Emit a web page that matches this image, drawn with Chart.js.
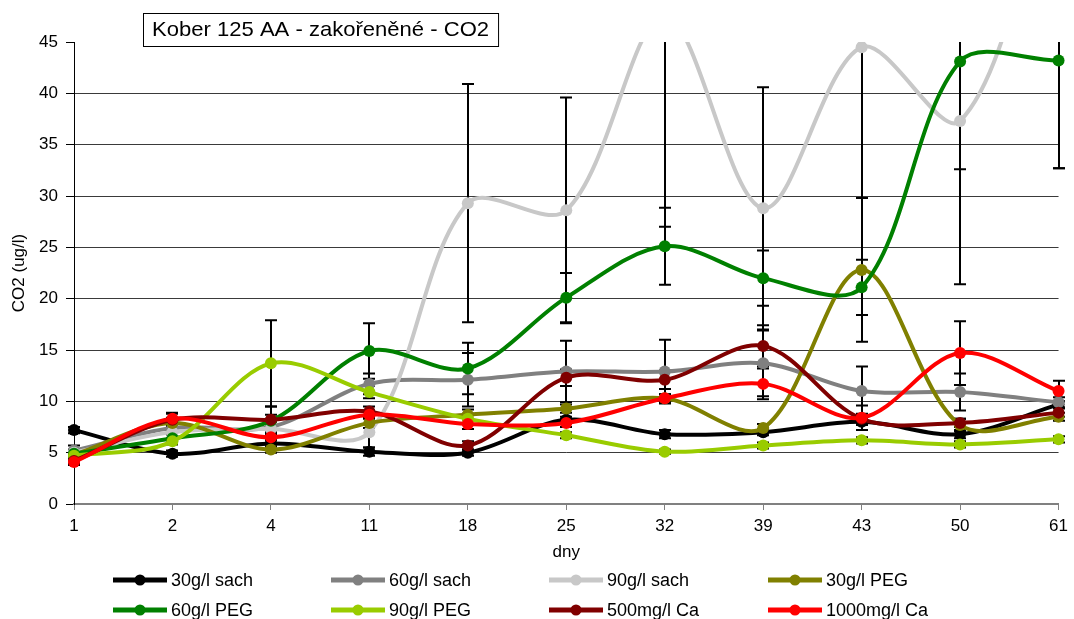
<!DOCTYPE html>
<html>
<head>
<meta charset="utf-8">
<script src="https://cdn.jsdelivr.net/npm/chart.js@4"></script>
<style>
  html, body { margin: 0; padding: 0; background: #fff; }
  #chart { display: block; }
</style>
</head>
<body>
<canvas id="chart" width="1074" height="619"></canvas>
<script>
const FONT = 'Arial, "Liberation Sans", sans-serif';

// dny (x axis categories)
const days = ["1", "2", "4", "11", "18", "25", "32", "39", "43", "50", "61"];

// series names
const names = ["30g/l sach", "60g/l sach", "90g/l sach", "30g/l PEG",
    "60g/l PEG", "90g/l PEG", "500mg/l Ca", "1000mg/l Ca"];

// CO2 values (ug/l)
const sach30 = [7.2, 4.9, 5.9, 5.1, 5.0, 8.2, 6.8, 7.0, 8.0, 6.8, 9.7];
const sach60 = [5.2, 7.4, 7.5, 11.7, 12.1, 12.9, 12.9, 13.7, 11.0, 10.9, 9.9];
const sach90 = [5.0, 7.0, 7.3, 7.0, 29.3, 28.6, 47.5, 28.8, 44.5, 37.3, 64];
const peg30 = [4.8, 7.9, 5.3, 7.9, 8.7, 9.3, 10.3, 7.4, 22.8, 7.7, 8.5];
const peg60 = [4.9, 6.4, 8.1, 14.9, 13.2, 20.1, 25.1, 22.0, 21.1, 43.1, 43.2];
const peg90 = [4.7, 6.1, 13.7, 10.9, 8.3, 6.7, 5.1, 5.7, 6.2, 5.8, 6.3];
const ca500 = [4.2, 8.2, 8.2, 9.0, 5.7, 12.3, 12.1, 15.4, 8.3, 7.9, 8.9];
const ca1000 = [4.1, 8.3, 6.5, 8.7, 7.8, 7.9, 10.3, 11.7, 8.4, 14.7, 11.0];

// error bar half-lengths (+/-)
const errSach30 = [0.3, 0.3, 0.3, 0.4, 0.3, 0.3, 0.4, 0.3, 0.3, 0.4, 0.3];
const errSach60 = [0.5, 0.6, 0.5, 1.0, 2.6, 3.0, 3.1, 3.2, 2.4, 1.8, 0.5];
const errSach90 = [0.3, 0.8, 0.8, 1.5, 11.6, 11.0, 20.5, 11.8, 14.7, 15.9, 31.3];
const errPeg30 = [0.3, 0.5, 0.3, 0.5, 0.5, 0.4, 0.4, 0.4, 7.0, 0.6, 0.4];
const errPeg60 = [0.3, 0.4, 0.6, 2.7, 2.5, 2.4, 3.75, 2.7, 2.7, 10.5, 10.5];
const errPeg90 = [0.2, 0.3, 4.2, 0.6, 0.5, 0.3, 0.2, 0.3, 0.3, 0.3, 0.3];
const errCa500 = [0.3, 0.6, 1.3, 0.5, 0.4, 0.8, 0.9, 2.0, 0.5, 0.4, 0.4];
const errCa1000 = [0.3, 0.6, 0.3, 0.4, 0.5, 0.4, 0.4, 1.5, 1.2, 3.1, 1.0];

const seriesValues = [sach30, sach60, sach90, peg30, peg60, peg90, ca500, ca1000];
const seriesErrors = [errSach30, errSach60, errSach90, errPeg30, errPeg60, errPeg90, errCa500, errCa1000];
const colors = ["#000000", "#808080", "#c8c8c8", "#808000", "#008000", "#99cc00", "#800000", "#ff0000"];

// error bars under the lines
const errorBars = {
    id: "errorBars",
    beforeDatasetsDraw(chart) {
        const ctx = chart.ctx, area = chart.chartArea, y = chart.scales.y;
        ctx.save();
        ctx.beginPath();
        ctx.rect(area.left - 10, area.top, area.right - area.left + 20, area.bottom - area.top);
        ctx.clip();
        ctx.strokeStyle = "#000";
        ctx.lineWidth = 2;
        seriesValues.forEach((vals, i) => {
            const meta = chart.getDatasetMeta(i);
            vals.forEach((v, j) => {
                const e = seriesErrors[i][j];
                if (!e) return;
                const x = Math.round(meta.data[j].x);
                const top = y.getPixelForValue(v + e), bot = y.getPixelForValue(v - e);
                ctx.beginPath();
                ctx.moveTo(x, top); ctx.lineTo(x, bot);
                ctx.moveTo(x - 6, top); ctx.lineTo(x + 6, top);
                ctx.moveTo(x - 6, bot); ctx.lineTo(x + 6, bot);
                ctx.stroke();
            });
        });
        ctx.restore();
    }
};

// boxed title + legend in two rows
const extras = {
    id: "extras",
    afterDraw(chart) {
        const ctx = chart.ctx;
        ctx.save();
        ctx.font = "21px " + FONT;
        const title = "Kober 125 AA - zakořeněné - CO2";
        const w = ctx.measureText(title).width * 1.05;
        ctx.fillStyle = "#fff";
        ctx.fillRect(143, 13, w + 18, 33);
        ctx.strokeStyle = "#000";
        ctx.lineWidth = 1;
        ctx.strokeRect(143.5, 13.5, w + 18, 33);
        ctx.fillStyle = "#000";
        ctx.textBaseline = "middle";
        ctx.save();
        ctx.translate(152, 30);
        ctx.scale(1.05, 1);
        ctx.fillText(title, 0, 0);
        ctx.restore();

        ctx.font = "18px " + FONT;
        const colX = [113, 331, 549, 768];
        const rowY = [580, 610];
        names.forEach((n, i) => {
            const x = colX[i % 4], yy = rowY[Math.floor(i / 4)];
            ctx.strokeStyle = colors[i];
            ctx.lineWidth = 5;
            ctx.beginPath();
            ctx.moveTo(x, yy); ctx.lineTo(x + 54, yy);
            ctx.stroke();
            ctx.fillStyle = colors[i];
            ctx.beginPath();
            ctx.arc(x + 27, yy, 5.5, 0, Math.PI * 2);
            ctx.fill();
            ctx.fillStyle = "#000";
            ctx.fillText(n, x + 58, yy + 1);
        });
        ctx.restore();
    }
};

new Chart(document.getElementById("chart"), {
    type: "line",
    plugins: [errorBars, extras],
    data: {
        labels: days,
        datasets: seriesValues.map((vals, i) => ({
            label: names[i],
            data: vals,
            borderColor: colors[i],
            backgroundColor: colors[i],
            pointBackgroundColor: colors[i],
            borderWidth: 4,
            pointRadius: 6,
            pointBorderWidth: 0,
            tension: 0.33,
            order: 7 - i,
            clip: { left: 10, right: 10, top: 0, bottom: 10 },
        })),
    },
    options: {
        responsive: false,
        animation: false,
        layout: { padding: { top: 42, right: 10, left: 0, bottom: 0 } },
        elements: { line: { capBezierPoints: false } },
        plugins: {
            legend: { display: false },
            tooltip: { enabled: false },
        },
        scales: {
            x: {
                type: "category",
                offset: false,
                afterFit: (axis) => { axis.height = 115; },
                grid: {
                    drawOnChartArea: false,
                    drawTicks: true,
                    tickLength: 6,
                    color: "#808080",
                },
                border: { color: "#808080", width: 2 },
                ticks: {
                    color: "#000",
                    font: { family: FONT, size: 17 },
                    padding: 6,
                    maxRotation: 0,
                    autoSkip: false,
                },
                title: {
                    display: true,
                    text: "dny",
                    color: "#000",
                    font: { family: FONT, size: 17 },
                    padding: { top: 0, bottom: 56 },
                },
            },
            y: {
                min: 0,
                max: 45,
                afterFit: (axis) => { axis.width = 74; },
                ticks: {
                    stepSize: 5,
                    color: "#000",
                    font: { family: FONT, size: 17 },
                    padding: 8,
                },
                grid: {
                    color: (c) => (c.tick && (c.tick.value === 45 || c.tick.value === 0)) ? "rgba(0,0,0,0)" : "#3a3a3a",
                    tickColor: "#000",
                    tickLength: 8,
                    lineWidth: 1,
                },
                border: { color: "#000", width: 1 },
                title: {
                    display: true,
                    text: "CO2 (ug/l)",
                    color: "#000",
                    font: { family: FONT, size: 17 },
                    padding: { top: 9, bottom: 0 },
                },
            },
        },
    },
});
</script>
</body>
</html>
